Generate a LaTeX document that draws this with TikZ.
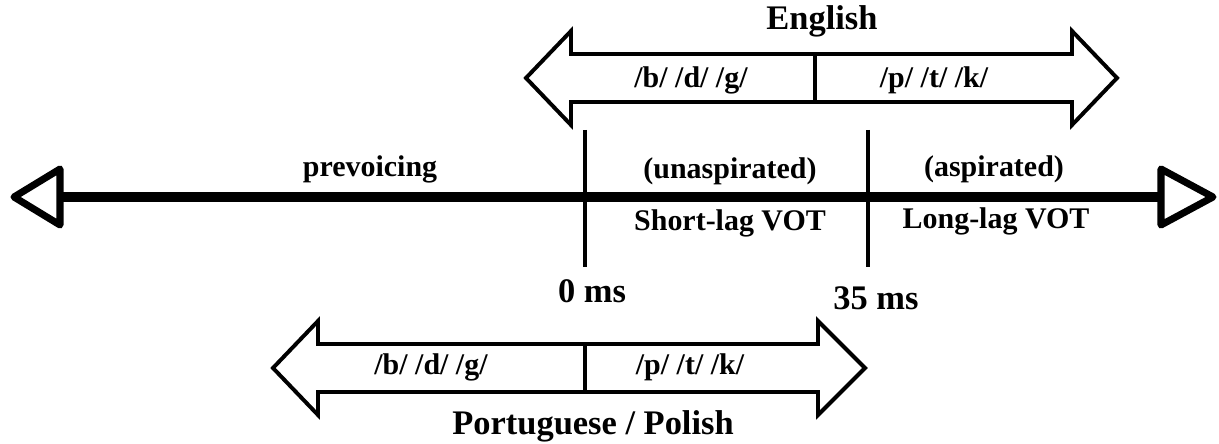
\documentclass[tikz,border=0pt]{standalone}
\usepackage{fontspec}
\setmainfont{Liberation Serif}
\usetikzlibrary{positioning}
\begin{document}
\begin{tikzpicture}[x=0.025cm, y=-0.025cm]
    \tikzstyle{lbl} = [font=\fontsize{21.3}{24}\selectfont\bfseries, inner sep=0pt, anchor=base]
    \tikzstyle{title} = [font=\fontsize{24.5}{28}\selectfont\bfseries, inner sep=0pt, anchor=base]
    \tikzstyle{axis} = [line width=7.1pt]
    \tikzstyle{head} = [line width=5pt, line join=round, fill=white]
    \tikzstyle{tick} = [line width=2.8pt]
    \tikzstyle{block} = [line width=2.8pt, fill=white]
    \useasboundingbox (0,0) rectangle (1219,444);

    % main VOT axis
    \coordinate (L) at (60,197);
    \coordinate (R) at (1161,197);
    \coordinate (t0top) at (585,130);
    \coordinate (t0bot) at (585,267);
    \coordinate (t35top) at (868,130);
    \coordinate (t35bot) at (868,267);
    \draw[tick] (t0top) -- (t0bot);
    \draw[tick] (t35top) -- (t35bot);
    \draw[axis] (L) -- (R);
    \draw[head] (L) -- ++(0,-28) -- ++(-46,28) -- ++(46,28) -- cycle;
    \draw[head] (R) -- ++(0,-28) -- ++(52,28) -- ++(-52,28) -- cycle;

    % English
    \draw[block] (526,78) -- (571,31) -- (571,54) -- (1072,54) -- (1072,31) -- (1117,78)
        -- (1072,125) -- (1072,102) -- (571,102) -- (571,125) -- cycle;
    \coordinate (enTop) at (815,54);
    \coordinate (enBot) at (815,102);
    \draw[tick] (enTop) -- (enBot);

    % Portuguese / Polish
    \draw[block] (273,368) -- (318,321) -- (318,344) -- (818,344) -- (818,321) -- (865,368)
        -- (818,415) -- (818,392) -- (318,392) -- (318,415) -- cycle;
    \coordinate (ptTop) at (585,344);
    \coordinate (ptBot) at (585,392);
    \draw[tick] (ptTop) -- (ptBot);

    \node[title](english) at (822,30){English};
    \node[lbl](enVoiced) at (691,88){/b/ /d/ /g/};
    \node[lbl](enVoiceless) at (934,88){/p/ /t/ /k/};
    \node[lbl](prevoicing) at (370,177){prevoicing};
    \node[lbl](unasp) at (730,179){(unaspirated)};
    \node[lbl](asp) at (994,177){(aspirated)};
    \node[lbl](shortlag) at (730,231){Short-lag VOT};
    \node[lbl](longlag) at (996,229){Long-lag VOT};
    \node[title](zero) at (592,303){0 ms};
    \node[title](thirtyfive) at (876,310){35 ms};
    \node[lbl](ptVoiced) at (431,375){/b/ /d/ /g/};
    \node[lbl](ptVoiceless) at (690,375){/p/ /t/ /k/};
    \node[title](portuguese) at (593,435){Portuguese / Polish};
\end{tikzpicture}
\end{document}
